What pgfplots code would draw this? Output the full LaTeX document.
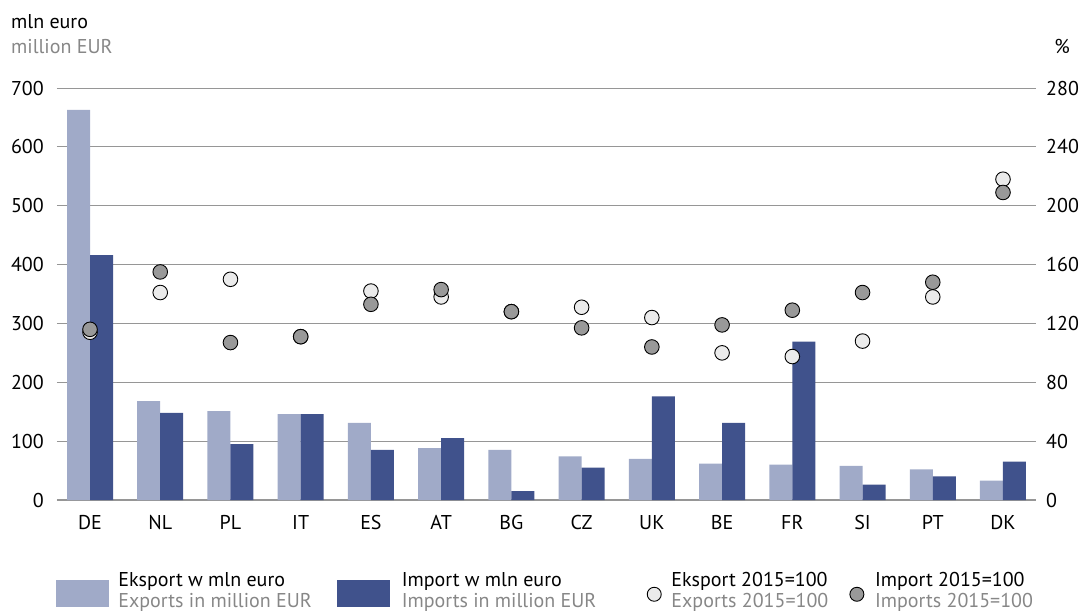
\documentclass[border=0pt]{standalone}
\usepackage{fontspec}
\setmainfont{PT Sans}
\usepackage{pgfplots}
\pgfplotsset{compat=1.18}
\definecolor{expbar}{RGB}{160,170,200}
\definecolor{impbar}{RGB}{64,82,140}
\definecolor{expcirc}{RGB}{235,235,235}
\definecolor{impcirc}{RGB}{153,153,153}
\definecolor{gridc}{RGB}{150,150,150}
\definecolor{subtxt}{RGB}{135,135,135}
\begin{document}
\begin{tikzpicture}[font=\fontsize{20}{21.5}\selectfont]
\useasboundingbox (0pt,0pt) rectangle (1080pt,-613pt);
\node[anchor=base west, inner sep=0pt] at (11pt,-28pt) {mln euro};
\node[anchor=base west, inner sep=0pt, text=subtxt] at (11pt,-53pt) {million EUR};
\node[anchor=base, inner sep=0pt] at (1062pt,-53pt) {\%};
\begin{axis}[
  at={(57pt,-500pt)}, anchor=south west,
  width=979pt, height=412pt, scale only axis,
  xmin=-0.47, xmax=13.47, ymin=0, ymax=700,
  ybar=0pt, bar width=23pt,
  xtick={0,...,13},
  xticklabels={DE,NL,PL,IT,ES,AT,BG,CZ,UK,BE,FR,SI,PT,DK},
  ytick={0,100,...,700},
  ymajorgrids, grid style={gridc, line width=0.8pt},
  axis x line*=bottom, axis y line*=left,
  x axis line style={gridc, line width=1.6pt, -},
  y axis line style={draw=none},
  major tick length=0pt, tick style={draw=none},
  /pgf/number format/assume math mode=true,
  yticklabel style={inner sep=0pt, xshift=-13pt},
  xticklabel style={inner sep=0pt, yshift=-15pt},
]
\addplot[fill=expbar, draw=none] coordinates {
 (0,663) (1,168) (2,151) (3,146) (4,131) (5,88) (6,85) (7,74) (8,70) (9,62) (10,60) (11,58) (12,52) (13,33)};
\addplot[fill=impbar, draw=none] coordinates {
 (0,416) (1,148) (2,95) (3,146) (4,85) (5,105) (6,15) (7,55) (8,176) (9,131) (10,269) (11,26) (12,40) (13,65)};
\end{axis}
\begin{axis}[
  at={(57pt,-500pt)}, anchor=south west,
  width=979pt, height=412pt, scale only axis,
  xmin=-0.47, xmax=13.47, ymin=0, ymax=280,
  axis x line=none, axis y line*=right,
  y axis line style={draw=none},
  ytick={0,40,...,280},
  major tick length=0pt, tick style={draw=none},
  /pgf/number format/assume math mode=true,
  yticklabel style={inner sep=0pt, xshift=10pt},
  legend columns=4, legend cell align=left,
  legend style={draw=none, fill=none, inner sep=0pt, outer sep=0pt,
    column sep=0pt, row sep=0pt, nodes={inner sep=0pt, outer sep=0pt},
    at={(0,0)}, anchor=north west, xshift=-1pt, yshift=-72pt},
]
\addlegendimage{legend image code/.code={\fill[expbar] (0pt,-21pt) rectangle (52pt,5pt); \path (62pt,0pt);}}
\addlegendentry{\parbox[c]{219pt}{Eksport w mln euro\\\textcolor{subtxt}{Exports in million EUR}}}
\addlegendimage{legend image code/.code={\fill[impbar] (0pt,-21pt) rectangle (52pt,5pt); \path (64pt,0pt);}}
\addlegendentry{\parbox[c]{245pt}{Import w mln euro\\\textcolor{subtxt}{Imports in million EUR}}}
\addlegendimage{legend image code/.code={\draw[black, fill=expcirc, line width=0.9pt] (7pt,-9pt) circle (7pt); \path (24pt,0pt);}}
\addlegendentry{\parbox[c]{178pt}{Eksport 2015=100\\\textcolor{subtxt}{Exports 2015=100}}}
\addlegendimage{legend image code/.code={\draw[black, fill=impcirc, line width=0.9pt] (7pt,-9pt) circle (7pt); \path (25pt,0pt);}}
\addlegendentry{\parbox[c]{180pt}{Import 2015=100\\\textcolor{subtxt}{Imports 2015=100}}}
\addplot[only marks, forget plot, mark=*, mark size=7.3pt, mark options={fill=expcirc, draw=black, line width=0.9pt}] coordinates {
 (0,114) (1,141) (2,150) (3,111) (4,142) (5,138) (6,128) (7,131) (8,124) (9,100) (10,97.5) (11,108) (12,138) (13,218)};
\addplot[only marks, forget plot, mark=*, mark size=7.3pt, mark options={fill=impcirc, draw=black, line width=0.9pt}] coordinates {
 (0,116) (1,155) (2,107) (3,111) (4,133) (5,143) (6,128) (7,117) (8,104) (9,119) (10,129) (11,141) (12,148) (13,209)};
\end{axis}
\end{tikzpicture}
\end{document}
